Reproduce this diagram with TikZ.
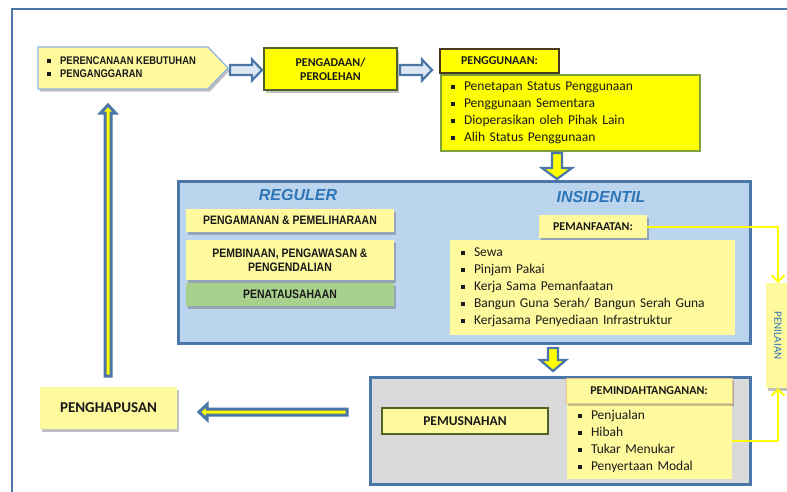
\documentclass[tikz,border=0pt]{standalone}
\usepackage{fontspec}
\setmainfont{Carlito}
\newfontfamily\arialn[FakeStretch=0.85]{Liberation Sans}
\newfontfamily\arialf{Liberation Sans}
\usetikzlibrary{shadows,arrows.meta}
\definecolor{frameblue}{HTML}{4A76A8}
\definecolor{lyel}{HTML}{FFFA9E}
\definecolor{byel}{HTML}{FFFF00}
\definecolor{lblue}{HTML}{BCD5EE}
\definecolor{lgray}{HTML}{D9D9D9}
\definecolor{lgreen}{HTML}{A9D18E}
\definecolor{dgreen}{HTML}{4F6228}
\definecolor{mgreen}{HTML}{7FA03F}
\definecolor{tblue}{HTML}{2E75B6}
\definecolor{txt}{HTML}{1A1A1A}
\definecolor{pale}{HTML}{DDE7F3}
\definecolor{edgeb}{HTML}{8EB4E3}
\definecolor{orng}{HTML}{F2C48D}
\definecolor{dbrown}{HTML}{4A3A1A}
\newcommand{\sqb}{\makebox[13pt][l]{\rule[1.6pt]{3.8pt}{3.8pt}}}
\tikzset{
  pics/barrow/.style args={#1/#2/#3/#4}{code={
    \path[pic actions] (0,-#2) -- ({#1-#4},-#2) -- ({#1-#4},-#3) -- (#1,0)
      -- ({#1-#4},#3) -- ({#1-#4},#2) -- (0,#2) -- cycle;
  }},
  shad/.style={drop shadow={shadow xshift=2pt,shadow yshift=-2.5pt,opacity=0.35,fill=black!70}},
  basebox/.style={inner sep=0pt, align=center, text=txt},
  capsb/.style={font=\fontsize{12}{14}\selectfont\bfseries},
  narrowb/.style={font=\arialn\bfseries\fontsize{12.3}{14}\selectfont},
  listtxt/.style={font=\fontsize{13.5}{17}\selectfont, align=left, text=txt},
  bigarrow/.style={draw=frameblue, line width=2.2},
  thinarrow/.style={draw=frameblue, fill=byel, line width=3, line join=miter},
  yel/.style={draw=byel, line width=2, -{Straight Barb[length=6pt,width=13pt]}},
  headtxt/.style={font=\arialf\bfseries\itshape\fontsize{16}{18}\selectfont, text=tblue}
}
\begin{document}
\begin{tikzpicture}[x={(1pt,0pt)}, y={(0pt,-1pt)}]
\useasboundingbox (0,0) rectangle (787,491);
\clip (0,0) rectangle (787,491);
\fill[white] (0,0) rectangle (787,491);
% outer frame
\draw[frameblue, line width=2.5] (12,500) -- (12,9) -- (800,9);

% planning pentagon
\path[draw=edgeb, line width=1.3, fill=lyel, shad] (38,47) -- (208,47) -- (228,68) -- (208,89) -- (38,89) -- cycle;
\node[basebox, align=left, anchor=west, font=\arialn\bfseries\fontsize{11.1}{13}\selectfont] (plan) at (47,67.5)
  {\sqb PERENCANAAN KEBUTUHAN\\\sqb PENGANGGARAN};

% pengadaan
\node[basebox, capsb, fill=byel, draw=dgreen, line width=1.5, minimum width=133, minimum height=42, shad] (ada) at (330.5,69)
  {PENGADAAN/\\PEROLEHAN};

% penggunaan
\node[basebox, capsb, fill=byel, draw=dbrown, line width=1.5, minimum width=119, minimum height=24] (guna) at (499.5,61) {PENGGUNAAN:};
\node[listtxt, fill=byel, draw=mgreen, line width=2.5, minimum width=259, minimum height=76, text width=239, inner xsep=10pt, inner ysep=0pt] (ulist) at (570.5,113)
  {\sqb Penetapan Status Penggunaan\\\sqb Penggunaan Sementara\\\sqb Dioperasikan oleh Pihak Lain\\\sqb Alih Status Penggunaan};

% block arrows along the top
\pic[bigarrow, fill=pale] at (230,70) {barrow=32/5/10.5/10};
\pic[bigarrow, fill=pale] at (400,70) {barrow=32/5/10.5/10};
\pic[bigarrow, fill=byel, rotate=-90] at (557,153) {barrow=26/5/15/11};

% big blue box
\node[draw=frameblue, fill=lblue, line width=3, minimum width=572, minimum height=162, inner sep=0pt] (blue) at (464,262) {};
\node[headtxt] (reg) at (298,195) {REGULER};
\node[headtxt] (ins) at (601,197) {INSIDENTIL};
\node[basebox, narrowb, fill=lyel, minimum width=208, minimum height=23, shad] (aman) at (290,220.5) {PENGAMANAN \& PEMELIHARAAN};
\node[basebox, narrowb, fill=lyel, minimum width=208, minimum height=40, shad] (bina) at (290,260) {PEMBINAAN, PENGAWASAN \&\\PENGENDALIAN};
\node[basebox, narrowb, fill=lgreen, minimum width=208, minimum height=23, shad] (tata) at (290,294.5) {PENATAUSAHAAN};
\node[basebox, capsb, fill=lyel, minimum width=108, minimum height=23, shad] (manf) at (593,226.5) {PEMANFAATAN:};
\node[listtxt, fill=lyel, minimum width=285, minimum height=95, text width=263, inner xsep=11pt, inner ysep=0pt] (mlist) at (592.5,287)
  {\sqb Sewa\\\sqb Pinjam Pakai\\\sqb Kerja Sama Pemanfaatan\\\sqb Bangun Guna Serah/ Bangun Serah Guna\\\sqb Kerjasama Penyediaan Infrastruktur};

\pic[bigarrow, fill=byel, rotate=-90] at (553,348) {barrow=23/5/13/11};

% gray box
\node[draw=frameblue, fill=lgray, line width=3, minimum width=380, minimum height=107, inner sep=0pt] (gray) at (560,430.5) {};
\node[basebox, font=\fontsize{13.5}{15}\selectfont\bfseries, fill=lyel, draw=dgreen, line width=1.5, minimum width=166, minimum height=26] (musnah) at (465,421) {PEMUSNAHAN};
\node[listtxt, fill=lyel, minimum width=165, minimum height=76, text width=143, inner xsep=11pt, inner ysep=0pt] (plist) at (649.5,441)
  {\sqb Penjualan\\\sqb Hibah\\\sqb Tukar Menukar\\\sqb Penyertaan Modal};
\node[basebox, capsb, fill=lyel, draw=orng, line width=1, minimum width=166, minimum height=25, shad] (pindah) at (649,390.5) {PEMINDAHTANGANAN:};

% penilaian
\node[basebox, fill=lyel, minimum width=105, minimum height=24, rotate=-90, shad, text=tblue, font=\fontsize{11}{12}\selectfont] (nilai) at (778,335.5) {PENILAIAN};
\draw[yel] (manf.east) -| (nilai.west);
\draw[yel] (plist.east) -| (nilai.east);

% penghapusan
\node[basebox, font=\fontsize{15}{17}\selectfont\bfseries, fill=lyel, minimum width=137, minimum height=42, shad] (hapus) at (108.5,408) {PENGHAPUSAN};
\pic[thinarrow, rotate=180] at (347,412) {barrow=148/3/7.5/8};
\pic[thinarrow, rotate=90] at (108,376) {barrow=271/3/7.5/8};
\end{tikzpicture}
\end{document}
